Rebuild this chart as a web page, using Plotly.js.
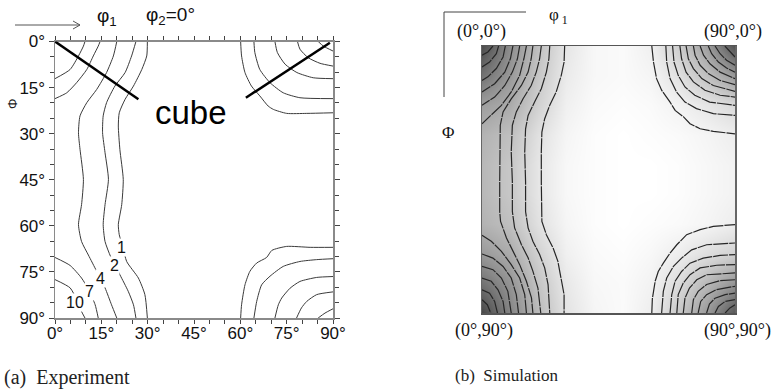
<!DOCTYPE html>
<html><head><meta charset="utf-8">
<script src="https://cdn.plot.ly/plotly-3.0.1.min.js"></script>
<style>html,body{margin:0;padding:0;background:#fff}#plot{width:775px;height:391px}</style>
</head><body><div id="plot"></div>
<script>
// ---------- Panel (a) Experiment : contour lines [phi1, Phi] in degrees ----------
const tickVals = [0, 15, 30, 45, 60, 75, 90];
const tickText = ['0°', '15°', '30°', '45°', '60°', '75°', '90°'];
const expLevels = [1, 2, 4, 7, 10];

const a_L1 = [[29.9,0],[29.7,4.7],[28.1,9.1],[25.4,14.5],[22.7,18.8],[20.8,23.2],[20.5,27.5],[21,35.1],[22.1,44.9],[21.6,53.1],[20.5,59.6],[20.8,62.9],[22,67],[23.2,71.6],[27,77],[29.1,82.4],[29.9,90]];
const a_L2 = [[26.2,0],[24.8,4.7],[22.7,10.1],[19.4,14.5],[16.7,19.9],[15.6,24.2],[15.4,29.7],[16.2,36.2],[17.3,44.9],[16.2,53.1],[15.6,59.6],[16.2,65.1],[18,70],[21,75.9],[23.7,81.3],[25.4,85.7],[26.2,90]];
const a_L4 = [[20,0],[18.9,4.7],[16.7,10.1],[13.5,15.6],[10.3,19.9],[8.1,24.2],[7.6,29.7],[8.1,35.1],[9.2,44.9],[8.6,53.1],[7.6,59.6],[8.6,65.1],[10.8,69.5],[13.5,74.8],[16.2,80.2],[18.3,85.7],[20,90]];
const a_L7top = [[0,18.6],[3.8,16.7],[7,13.4],[10.3,9.1],[12.4,4.7],[14,1.5],[14.6,0]];
const a_L10top = [[0,12.1],[4.9,9.1],[7.6,4.7],[9.2,1.5],[9.7,0]];
const a_L7bot = [[0,70.3],[4.9,72.9],[8.6,77],[11,81],[13,85.7],[14,90]];
const a_L10bot = [[0,77.5],[4.9,80.2],[7,84],[8.6,87.9],[9.7,90]];
const a_R1top = [[60.1,0],[60.4,4.7],[61.5,10.1],[63.6,14.5],[66.3,17.7],[69,21],[70.7,22.1],[75,23.4],[81.5,23.4],[90,23.2]];
const a_R2top = [[64.4,0],[64.7,3.6],[66.3,9.1],[69.6,13.4],[73.9,16.7],[79.3,18.3],[90,18.6]];
const a_R4top = [[71.2,0],[72,3.6],[74.5,7.4],[78.3,10.1],[83.6,11.8],[90,12.1]];
const a_R7top = [[78.5,0],[79.3,2.5],[82,5.3],[85.8,7.1],[90,8]];
const a_R10top = [[85.2,0],[86.9,1.5],[90,3.1]];
const a_R1bot = [[60.1,90],[60.4,85.7],[61.5,79.2],[63.1,74.8],[65.3,72.1],[68.5,70.3],[70.2,68],[75,66.7],[82.6,67],[90,67]];
const a_R2bot = [[64.4,90],[65.3,84.6],[66.9,79.2],[69.6,76.4],[73.9,73.2],[79.3,71.6],[84.7,71],[90,70.7]];
const a_R4bot = [[71.2,90],[72.3,85.7],[73.4,83.5],[76.1,80.3],[79.3,78.1],[84.7,76.8],[90,76.5]];
const a_R7bot = [[78.2,90],[79.8,86.7],[81.5,84.6],[84.7,82.4],[90,81.5]];
const a_R10bot = [[85.2,90],[87.4,88.4],[90,87]];
// contour label positions [phi1, Phi]
const a_labelPos = [[21.6,67],[19.1,72.9],[14.6,77],[11.1,81.3],[6.5,84.8]];
// "cube" marker lines [phi1, Phi]
const cubeLeft = [[0,0],[27,18.8]];
const cubeRight = [[61.8,18.3],[89,0.4]];

// ---------- Panel (b) Simulation ----------
const gridPhi1 = [0,10,20,30,40,50,60,70,80,90];
const gridPhi  = [0,10,20,30,40,50,60,70,80,90];
const simDensity = [
  [0.70,0.45,0.25,0.10,0.03,0.02,0.06,0.20,0.38,0.68],
  [0.55,0.40,0.22,0.08,0.03,0.02,0.04,0.12,0.25,0.40],
  [0.38,0.33,0.18,0.06,0.02,0.01,0.02,0.05,0.10,0.15],
  [0.30,0.25,0.12,0.04,0.01,0.00,0.01,0.02,0.04,0.07],
  [0.28,0.22,0.10,0.03,0.01,0.00,0.00,0.01,0.03,0.05],
  [0.28,0.22,0.10,0.03,0.01,0.00,0.00,0.01,0.03,0.05],
  [0.30,0.25,0.12,0.04,0.01,0.00,0.01,0.02,0.04,0.07],
  [0.40,0.33,0.18,0.06,0.02,0.01,0.03,0.07,0.13,0.18],
  [0.55,0.42,0.23,0.09,0.03,0.02,0.05,0.14,0.28,0.42],
  [0.72,0.48,0.27,0.11,0.04,0.02,0.07,0.22,0.40,0.66]
];
const b_T10 = [[29.4,0],[29.2,5.4],[28.2,9.9],[26.4,15.5],[24.1,20],[22.3,24.5],[21.3,29],[21.1,35.7],[21.1,45.8],[21.1,55.8],[21.3,59.1],[22.9,63.6],[25.3,68.1],[27,72.6],[28.2,78.2],[29.2,83.8],[29.2,90]];
const b_T9 = [[24.1,0],[23.8,4.3],[22.9,8.8],[21.1,14.4],[18.7,18.9],[16.4,23.4],[15.5,27.9],[15.2,35.7],[15.5,45.8],[15.5,55.8],[16.4,61.3],[18.1,65.8],[20.5,70.3],[22.3,74.8],[23.5,80.4],[24.1,90]];
const b_T8 = [[21.1,0],[20.5,4.3],[19.3,8.8],[17.5,13.3],[14.6,17.8],[12.2,22.2],[10.8,26.7],[10.4,35.7],[10.8,45.8],[10.8,55.8],[11.6,61.3],[14,66.9],[16.4,71.4],[18.1,75.9],[19.9,81.6],[20.9,90]];
const b_T7 = [[18.1,0],[17.5,4.3],[16.4,8.8],[14,13.3],[10.4,17.8],[7.5,22.2],[6.5,26.7],[6.3,35.7],[6.3,45.8],[6.3,55.8],[6.6,59.1],[8.7,64.7],[11,69.2],[13.4,73.7],[15.8,79.3],[17.6,84.9],[18.1,90]];
const b_T6 = [[15.8,0],[14.9,4.3],[13.4,9.9],[10.4,15.5],[6.9,20],[3.3,23.4],[0,26.2]];
const b_T5 = [[13.4,0],[12.6,4.3],[10.8,8.8],[8.1,13.3],[4.5,17.2],[0,20]];
const b_T4 = [[11,0],[10.1,4.3],[8.1,8.8],[4.5,12.7],[0,15.5]];
const b_T3 = [[8.3,0],[7.5,3.7],[5.1,7.6],[2.1,10.4],[0,11.6]];
const b_T2 = [[5.9,0],[5.1,2.6],[2.7,5.4],[0,7.1]];
const b_T1 = [[3.9,0],[2.1,2],[0,3.1]];
const b_B6 = [[0,63.8],[3.3,65.8],[6.9,69.2],[10.4,73.7],[13.4,78.2],[15.2,83.8],[15.8,90]];
const b_B5 = [[0,70.1],[3.9,71.5],[7.5,74.3],[10.4,78.2],[12.2,83.8],[13,90]];
const b_B4 = [[0,74.3],[3.9,75.4],[6.9,78.2],[9.2,82.7],[10.4,90]];
const b_B3 = [[0,78.2],[3.3,79.3],[5.7,82.2],[7.5,86.1],[8.1,90]];
const b_B2 = [[0,82.2],[2.7,83.3],[4.5,86.1],[5.5,90]];
const b_B1 = [[0,85.5],[1.9,87.2],[3.1,90]];
const b_R1 = [[60.4,0],[61,5.4],[62.1,11],[63.9,14.9],[66.9,18.9],[68.7,21.7],[71.7,23.9],[74,26.2],[77.6,27.9],[82.3,28.8],[90,29.6]];
const b_R2 = [[65.4,0],[65.7,5.4],[66.9,11],[69.2,15.5],[72.2,18.9],[76.3,21.1],[82.3,22.8],[90,23.4]];
const b_R3 = [[67.8,0],[68.3,5.4],[69.8,9.9],[72.2,13.8],[75.7,16.6],[81,18.9],[90,20]];
const b_R4 = [[70.4,0],[71,4.3],[72.6,8.8],[75.2,12.1],[79.3,14.9],[84.7,16.6],[90,17.2]];
const b_R5 = [[72.6,0],[73.4,4.3],[75.2,7.6],[78.2,11],[82.3,13.3],[90,15.3]];
const b_R6 = [[75.2,0],[75.8,3.1],[77.6,6.5],[80.5,9.3],[84.7,11.6],[90,13]];
const b_R7 = [[77.6,0],[78.8,3.1],[81.1,6],[84.7,8.8],[90,11]];
const b_R8 = [[80.5,0],[81.7,2.6],[84.1,5.4],[87,7.4],[90,8.8]];
const b_R9 = [[82.9,0],[84.7,2.6],[87,4.8],[90,6.5]];
const b_R10 = [[86.4,0],[88.2,1.8],[90,3.7]];
const b_S1 = [[60.4,90],[60.6,85.2],[61.6,79.3],[62.7,76],[64.5,73.2],[66.9,69.8],[69.3,67],[72.8,63.6],[77.6,61.9],[82.3,60.8],[90,60.2]];
const b_S2 = [[63.9,90],[64.5,82.7],[65.7,78.2],[68.1,74.3],[71,71.5],[74.6,68.7],[79.9,67],[90,66.4]];
const b_S3 = [[66.9,90],[67.5,83.8],[68.7,79.3],[71,76],[74,73.2],[78.7,71.5],[84.7,70.6],[90,70.3]];
const b_S4 = [[69.3,90],[69.8,83.8],[71.6,79.9],[74,77.1],[77.6,74.8],[83.5,73.9],[90,73.7]];
const b_S5 = [[71.6,90],[72.2,85],[73.8,81.6],[76.4,78.8],[79.9,77.1],[90,76.5]];
const b_S6 = [[74.6,90],[75.2,85.5],[76.9,82.7],[79.9,80.4],[84.7,79.1],[90,78.8]];
const b_S7 = [[76.9,90],[77.8,86.1],[79.9,83.8],[83.5,82.1],[90,81]];
const b_S8 = [[79.9,90],[80.9,87],[82.9,85],[86.5,83.8],[90,83.3]];
const b_S9 = [[82.9,90],[84.1,87.8],[86.5,86.1],[90,85.5]];
const b_S10 = [[86.5,90],[88.2,88.3],[90,87.2]];

// ---------- build ----------
const W = 775, H = 391;
const PX = v => v / W, PY = v => 1 - v / H;

const expCurves = [a_L1,a_L2,a_L4,a_L7top,a_L10top,a_L7bot,a_L10bot,a_R1top,a_R2top,a_R4top,a_R7top,a_R10top,a_R1bot,a_R2bot,a_R4bot,a_R7bot,a_R10bot];
const simCurves = [b_T10,b_T9,b_T8,b_T7,b_T6,b_T5,b_T4,b_T3,b_T2,b_T1,b_B6,b_B5,b_B4,b_B3,b_B2,b_B1,
  b_R1,b_R2,b_R3,b_R4,b_R5,b_R6,b_R7,b_R8,b_R9,b_R10,b_S1,b_S2,b_S3,b_S4,b_S5,b_S6,b_S7,b_S8,b_S9,b_S10];

const traces = [];
traces.push({type:'heatmap', x:gridPhi1, y:gridPhi, z:simDensity, xaxis:'x2', yaxis:'y2',
  zsmooth:'best', zmin:0, zmax:1, colorscale:[[0,'#ffffff'],[1,'#000000']], showscale:false, hoverinfo:'skip'});
expCurves.forEach(c => traces.push({type:'scatter', mode:'lines', x:c.map(p=>p[0]), y:c.map(p=>p[1]),
  xaxis:'x', yaxis:'y', line:{color:'#3a3a3a', width:1, shape:'spline', smoothing:0.6}, hoverinfo:'skip', showlegend:false}));
simCurves.forEach(c => traces.push({type:'scatter', mode:'lines', x:c.map(p=>p[0]), y:c.map(p=>p[1]),
  xaxis:'x2', yaxis:'y2', line:{color:'#262626', width:1.2, dash:'15px,1px'}, hoverinfo:'skip', showlegend:false}));

const sans = 'Liberation Sans, Arial, sans-serif';
const serif = 'Liberation Serif, Times New Roman, serif';

function note(x, y, text, font, extra) {
  return Object.assign({xref:'paper', yref:'paper', x:PX(x), y:PY(y), text, showarrow:false,
    xanchor:'center', yanchor:'middle', font}, extra || {});
}

const annotations = [];
expLevels.forEach((lv, i) => annotations.push({xref:'x', yref:'y', x:a_labelPos[i][0], y:a_labelPos[i][1], text:String(lv),
  showarrow:false, xanchor:'center', yanchor:'middle', font:{family:sans, size:16, color:'#111'}, bgcolor:'#ffffff', borderpad:0}));
annotations.push(
  note(191, 112, 'cube', {family:sans, size:33, color:'#000'}),
  note(107, 17, 'φ<sub>1</sub>', {family:sans, size:19, color:'#111'}),
  note(170, 16, 'φ<sub>2</sub>=0°', {family:sans, size:19, color:'#111'}),
  note(12, 104, 'Φ', {family:sans, size:13, color:'#222'}, {textangle:-90}),
  note(2, 377, '(a)&nbsp;&nbsp;Experiment', {family:serif, size:20, color:'#222'}, {xanchor:'left'}),
  note(453, 375, '(b)&nbsp;&nbsp;Simulation', {family:serif, size:17, color:'#222'}, {xanchor:'left'}),
  note(481, 32, '(0°,0°)', {family:serif, size:18, color:'#111'}),
  note(733, 32, '(90°,0°)', {family:serif, size:18, color:'#111'}),
  note(484, 330, '(0°,90°)', {family:serif, size:18, color:'#111'}),
  note(737, 330, '(90°,90°)', {family:serif, size:18, color:'#111'}),
  note(558, 16, 'φ<sub> 1</sub>', {family:serif, size:17, color:'#111'}),
  note(448, 132, 'Φ', {family:serif, size:17, color:'#111'})
);

const shapes = [
  {type:'line', xref:'x', yref:'y', x0:cubeLeft[0][0], y0:cubeLeft[0][1], x1:cubeLeft[1][0], y1:cubeLeft[1][1], line:{color:'#000', width:2.5}},
  {type:'line', xref:'x', yref:'y', x0:cubeRight[0][0], y0:cubeRight[0][1], x1:cubeRight[1][0], y1:cubeRight[1][1], line:{color:'#000', width:2.5}},
  // arrow at top-left
  {type:'line', xref:'paper', yref:'paper', x0:PX(15), y0:PY(25), x1:PX(80), y1:PY(25), line:{color:'#555', width:1}},
  {type:'line', xref:'paper', yref:'paper', x0:PX(73), y0:PY(21), x1:PX(80), y1:PY(25), line:{color:'#555', width:1}},
  {type:'line', xref:'paper', yref:'paper', x0:PX(73), y0:PY(29), x1:PX(80), y1:PY(25), line:{color:'#555', width:1}},
  // bracket at panel (b)
  {type:'line', xref:'paper', yref:'paper', x0:PX(444), y0:PY(12), x1:PX(526), y1:PY(12), line:{color:'#444', width:1}},
  {type:'line', xref:'paper', yref:'paper', x0:PX(444), y0:PY(12), x1:PX(444), y1:PY(97), line:{color:'#444', width:1}}
];

const axA = {
  range:[0,90], showgrid:false, zeroline:false, showline:true, linecolor:'#8a8a8a', linewidth:1.5, mirror:'ticks',
  ticks:'outside', ticklen:5, tickcolor:'#444', tickwidth:1, tickvals:tickVals, ticktext:tickText,
  tickfont:{family:sans, size:17, color:'#111'},
  minor:{dtick:5, ticks:'outside', ticklen:4, tickcolor:'#444', tickwidth:1}
};

const layout = {
  width:W, height:H, margin:{l:0, r:0, t:0, b:0}, paper_bgcolor:'#ffffff', plot_bgcolor:'#ffffff', showlegend:false,
  xaxis: Object.assign({}, axA, {domain:[PX(55), PX(333)], anchor:'y', ticklen:4, ticklabelstandoff:-5}),
  yaxis: Object.assign({}, axA, {domain:[PY(318), PY(41.5)], anchor:'x', range:[90,0]}),
  xaxis2:{domain:[PX(482), PX(735)], anchor:'y2', range:[0,90], showgrid:false, zeroline:false, showline:true, mirror:true,
    linecolor:'#555', linewidth:1.5, showticklabels:false, ticks:''},
  yaxis2:{domain:[PY(313), PY(46)], anchor:'x2', range:[90,0], showgrid:false, zeroline:false, showline:true, mirror:true,
    linecolor:'#666', linewidth:1.5, showticklabels:false, ticks:''},
  annotations, shapes
};

Plotly.newPlot('plot', traces, layout, {staticPlot:true, displayModeBar:false});
</script></body></html>
